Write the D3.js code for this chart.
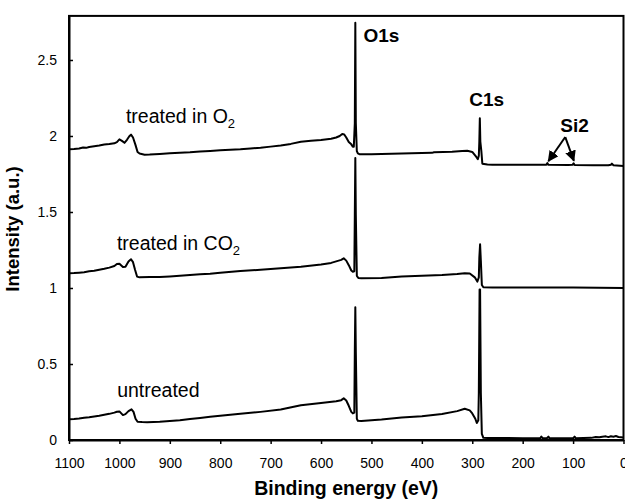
<!DOCTYPE html>
<html>
<head>
<meta charset="utf-8">
<script src="https://cdn.jsdelivr.net/npm/d3@7"></script>
<style>
  html, body { margin: 0; padding: 0; background: #fff; }
  svg { display: block; }
  text { font-family: "Liberation Sans", Arial, sans-serif; }
</style>
</head>
<body>
<svg id="chart" width="625" height="501"></svg>
<script>
// ---- data (binding energy eV, intensity a.u.) ----
const xTicks = [1100, 1000, 900, 800, 700, 600, 500, 400, 300, 200, 100, 0];
const yTicks = [0, 0.5, 1, 1.5, 2, 2.5];

const seriesO2 = [
  [1100,1.913],[1090,1.915],[1080,1.918],[1072,1.924],[1066,1.922],[1060,1.928],[1050,1.933],
  [1040,1.937],[1030,1.944],[1020,1.947],[1010,1.952],[1005,1.960],[1000,1.978],[995,1.968],
  [990,1.955],[985,1.975],[980,2.000],[977,2.009],[973,1.990],[968,1.940],[964,1.895],
  [960,1.885],[950,1.877],[940,1.878],[920,1.882],[900,1.886],[880,1.890],[860,1.893],
  [840,1.898],[820,1.902],[800,1.906],[780,1.910],[760,1.913],[740,1.918],[720,1.923],
  [700,1.930],[680,1.938],[660,1.948],[640,1.962],[620,1.968],[600,1.974],[580,1.982],
  [570,1.990],[563,2.000],[558,2.013],[554,2.010],[550,1.990],[545,1.960],[540,1.945],
  [537,1.930],[535,1.930],[533,2.085],[532,2.745],[531,2.085],[529,1.900],[527,1.885],
  [524,1.880],[500,1.880],[480,1.882],[460,1.883],[440,1.885],[420,1.887],[380,1.889],
  [376,1.893],[340,1.897],[320,1.902],[310,1.903],[300,1.895],[292,1.862],[289,1.848],
  [287,1.870],[286,1.963],[285,2.116],[284,1.963],[282,1.900],[280,1.818],[270,1.812],
  [260,1.811],[240,1.810],[200,1.810],[160,1.810],[153,1.811],[151,1.822],[149,1.810],
  [110,1.809],[101,1.810],[99,1.820],[97,1.809],[60,1.808],[30,1.807],[25,1.811],
  [23,1.818],[20,1.808],[0,1.803]
];

const seriesCO2 = [
  [1100,1.097],[1090,1.098],[1080,1.101],[1070,1.104],[1060,1.110],[1050,1.113],[1040,1.120],
  [1030,1.126],[1020,1.134],[1010,1.145],[1005,1.158],[1000,1.160],[993,1.138],[988,1.140],
  [982,1.175],[977,1.189],[973,1.170],[969,1.120],[965,1.075],[960,1.070],[940,1.072],
  [920,1.073],[900,1.076],[880,1.080],[860,1.085],[840,1.090],[820,1.093],[800,1.100],
  [760,1.112],[720,1.120],[680,1.130],[640,1.140],[600,1.155],[580,1.165],[570,1.175],
  [560,1.185],[555,1.195],[550,1.180],[545,1.150],[540,1.115],[537,1.107],[534,1.110],
  [533,1.480],[532,1.855],[531,1.480],[529,1.080],[526,1.066],[520,1.064],[480,1.066],
  [440,1.075],[400,1.080],[360,1.085],[330,1.092],[315,1.097],[305,1.095],[295,1.070],
  [290,1.042],[287,1.070],[286,1.200],[284.5,1.287],[283,1.180],[281,1.020],[278,1.005],
  [260,1.004],[200,1.003],[150,1.004],[100,1.004],[50,1.002],[0,1.000]
];

const seriesUntreated = [
  [1100,0.136],[1090,0.138],[1080,0.141],[1070,0.146],[1060,0.150],[1050,0.155],[1040,0.160],
  [1030,0.166],[1020,0.172],[1010,0.180],[1005,0.186],[1000,0.188],[993,0.164],[988,0.170],
  [982,0.190],[976,0.202],[972,0.185],[968,0.140],[964,0.120],[955,0.118],[945,0.117],
  [920,0.120],[900,0.125],[880,0.130],[860,0.138],[840,0.145],[820,0.153],[800,0.160],
  [760,0.172],[720,0.185],[680,0.200],[640,0.228],[600,0.243],[570,0.255],[560,0.262],
  [555,0.274],[550,0.260],[545,0.225],[540,0.185],[537,0.175],[534,0.180],[533,0.580],
  [532,0.873],[531,0.580],[529,0.140],[527,0.127],[520,0.125],[480,0.135],[440,0.148],
  [400,0.157],[360,0.171],[330,0.190],[315,0.206],[305,0.195],[300,0.175],[294,0.140],
  [291,0.112],[288,0.130],[287,0.310],[285.5,0.990],[284.5,0.990],[283,0.310],[281,0.040],
  [278,0.014],[270,0.013],[200,0.012],[165,0.012],[163,0.022],[160,0.012],[152,0.012],
  [149,0.022],[147,0.012],[100,0.012],[97,0.022],[95,0.012],[64,0.014],[55,0.020],
  [48,0.018],[42,0.022],[35,0.024],[30,0.019],[25,0.025],[20,0.022],[15,0.026],[10,0.020],
  [5,0.018],[0,0.016]
];

// annotation text: label, subscript, energy, intensity, bold
const labelTexts = ["treated in O", "treated in CO", "untreated", "O1s", "C1s", "Si2"];
const labelSubs = ["2", "2", "", "", "", ""];
const labelEnergy = [987, 1005, 1004.5, 516, 306, 125.5];
const labelIntensity = [2.088, 1.25, 0.286, 2.62, 2.197, 2.028];
const labelBold = [false, false, false, true, true, true];

// Si2 arrows: start [energy, intensity] -> end
const arrowStart = [[115.5, 1.993], [115.5, 1.993]];
const arrowEnd = [[149, 1.834], [98.5, 1.837]];

// ---- layout ----
const svg = d3.select("#chart");
const mLeft = 69, mRight = 623.5, mTop = 15.9, mBottom = 440;

const x = d3.scaleLinear().domain([1100, 0]).range([mLeft, mRight]);
const y = d3.scaleLinear().domain([0, 2.79]).range([mBottom, mTop]);

svg.append("defs").append("marker")
  .attr("id", "arrowhead").attr("viewBox", "0 0 10 10")
  .attr("refX", 9).attr("refY", 5)
  .attr("markerWidth", 5.5).attr("markerHeight", 5.5)
  .attr("markerUnits", "strokeWidth")
  .attr("orient", "auto")
  .append("path").attr("d", "M0,0 L10,5 L0,10 Z").attr("fill", "#000");

// series lines
const line = d3.line().x(d => x(d[0])).y(d => y(d[1]));
[seriesO2, seriesCO2, seriesUntreated].forEach(s => {
  svg.append("path").datum(s)
    .attr("d", line)
    .attr("fill", "none")
    .attr("stroke", "#000")
    .attr("stroke-width", 2)
    .attr("stroke-linejoin", "round");
});

// frame
svg.append("rect")
  .attr("x", mLeft).attr("y", mTop)
  .attr("width", mRight - mLeft).attr("height", mBottom - mTop)
  .attr("fill", "none").attr("stroke", "#000").attr("stroke-width", 2);

// axes
const xAxis = d3.axisBottom(x).tickValues(xTicks).tickFormat(d3.format("d"))
  .tickSizeInner(4).tickSizeOuter(0).tickPadding(14);
const gx = svg.append("g").attr("transform", `translate(0,${mBottom})`).call(xAxis);
gx.select(".domain").attr("stroke-width", 2);
gx.selectAll(".tick line").attr("stroke-width", 1.5);
gx.selectAll("text").attr("font-size", 14).attr("fill", "#000")
  .attr("font-family", "'Liberation Sans', Arial, sans-serif");

const yAxis = d3.axisLeft(y).tickValues(yTicks).tickFormat(d3.format("~g"))
  .tickSizeInner(-4).tickSizeOuter(0).tickPadding(12);
const gy = svg.append("g").attr("transform", `translate(${mLeft},0)`).call(yAxis);
gy.select(".domain").attr("stroke-width", 2);
gy.selectAll(".tick line").attr("stroke-width", 1.5);
gy.selectAll("text").attr("font-size", 14).attr("fill", "#000")
  .attr("font-family", "'Liberation Sans', Arial, sans-serif");

// axis titles
svg.append("text")
  .attr("x", (mLeft + mRight) / 2).attr("y", 495)
  .attr("text-anchor", "middle").attr("font-size", 19.5).attr("font-weight", "bold")
  .text("Binding energy (eV)");

svg.append("text")
  .attr("transform", `translate(19,229) rotate(-90)`)
  .attr("text-anchor", "middle").attr("font-size", 18.5).attr("font-weight", "bold")
  .text("Intensity (a.u.)");

// annotations
labelTexts.forEach((t, i) => {
  const txt = svg.append("text")
    .attr("x", x(labelEnergy[i])).attr("y", y(labelIntensity[i]))
    .attr("font-size", labelBold[i] ? 19 : 19.5)
    .attr("font-weight", labelBold[i] ? "bold" : "normal")
    .attr("fill", "#000");
  txt.append("tspan").text(t);
  if (labelSubs[i]) {
    txt.append("tspan").attr("font-size", 13).attr("dy", 5).text(labelSubs[i]);
  }
});

arrowStart.forEach((s, i) => {
  svg.append("line")
    .attr("x1", x(s[0])).attr("y1", y(s[1]))
    .attr("x2", x(arrowEnd[i][0])).attr("y2", y(arrowEnd[i][1]))
    .attr("stroke", "#000").attr("stroke-width", 2)
    .attr("marker-end", "url(#arrowhead)");
});
</script>
</body>
</html>
